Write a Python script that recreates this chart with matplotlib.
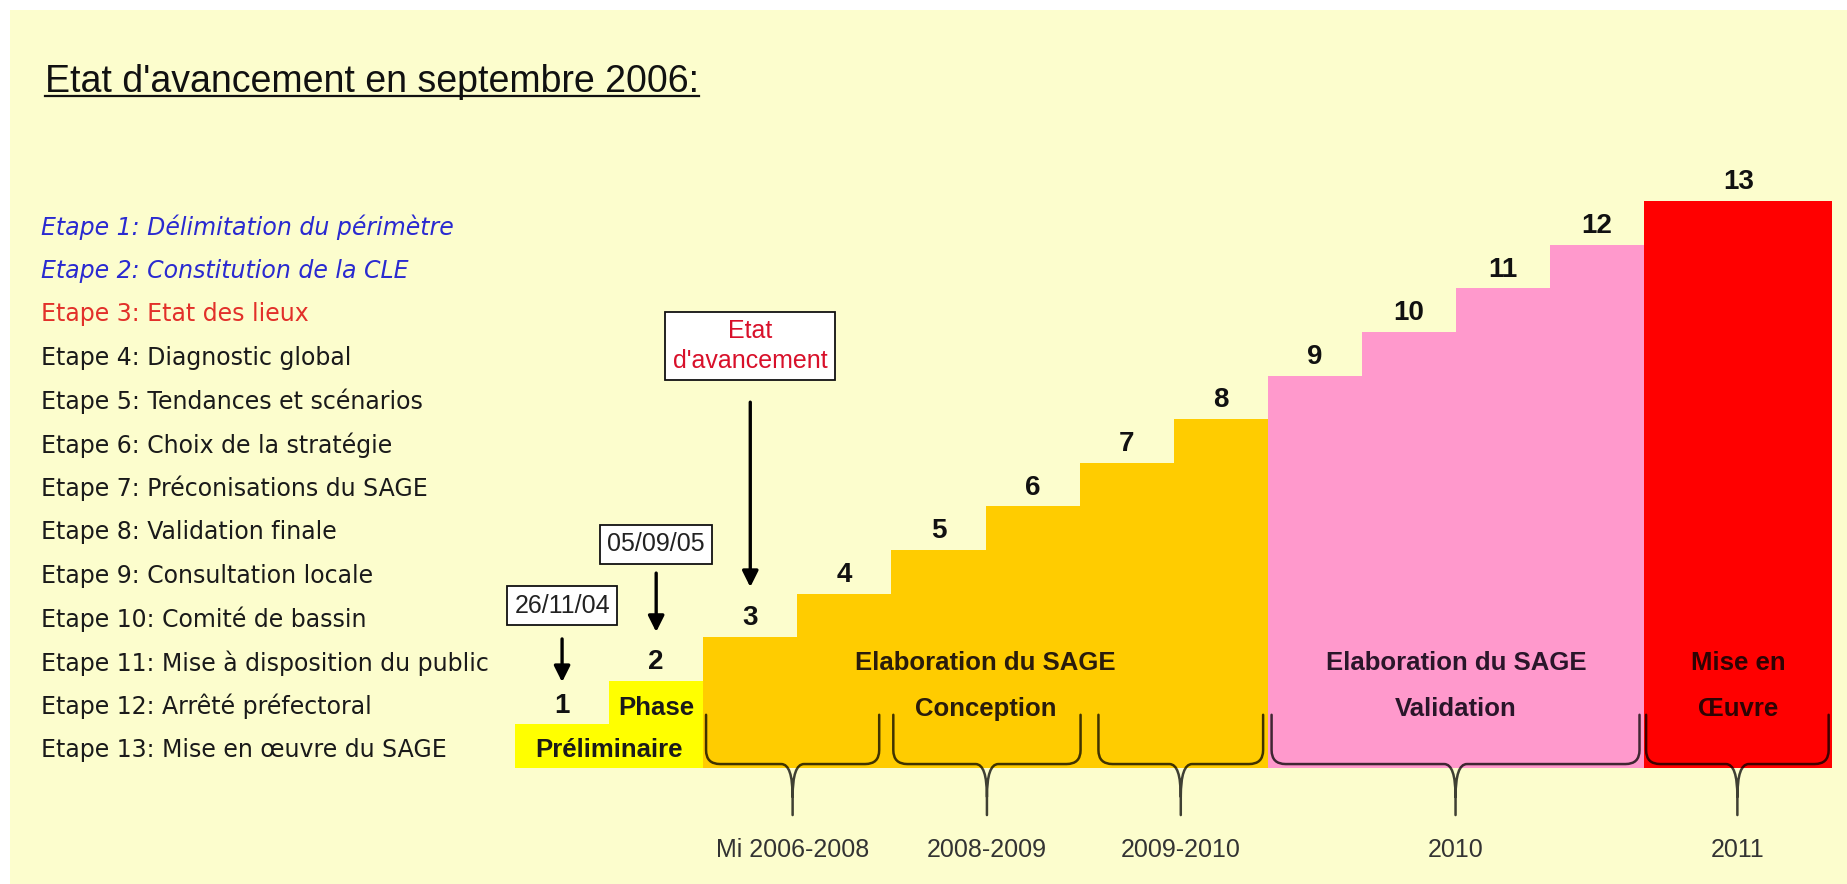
import matplotlib
matplotlib.use("Agg")
import matplotlib.pyplot as plt
from matplotlib.path import Path
from matplotlib.patches import PathPatch

# Etapes du SAGE (liste de gauche)
etapes = ["Délimitation du périmètre", "Constitution de la CLE", "Etat des lieux",
          "Diagnostic global", "Tendances et scénarios", "Choix de la stratégie",
          "Préconisations du SAGE", "Validation finale", "Consultation locale",
          "Comité de bassin", "Mise à disposition du public", "Arrêté préfectoral",
          "Mise en œuvre du SAGE"]
etape_statut = ["fait", "fait", "en cours"] + ["à venir"] * 10

# escalier: numero de l'etape, largeur de la marche, phase
step_num = list(range(1, 14))
step_width = [1] * 12 + [2]
step_phase = [0, 0, 1, 1, 1, 1, 1, 1, 2, 2, 2, 2, 3]

phase_lines = [("Phase", "Préliminaire"),
               ("Elaboration du SAGE", "Conception"),
               ("Elaboration du SAGE", "Validation"),
               ("Mise en", "Œuvre")]
phase_colors = ["#FFFF00", "#FFCC00", "#FF99CC", "#FF0000"]
phase_text_colors = ["#1a1a1a", "#2a1c0c", "#2a162a", "#2e0303"]

# periodes (accolades sous l'escalier)
periods = ["Mi 2006-2008", "2008-2009", "2009-2010", "2010", "2011"]
period_start = [2.03, 4.02, 6.20, 8.04, 12.02]
period_end = [3.87, 6.01, 7.95, 11.95, 13.96]

# reperes de dates
dates = ["26/11/04", "05/09/05", "Etat\nd'avancement"]
date_step = [1, 2, 3]

status_style = {"fait": ("#2a2ad0", "italic"),
                "en cours": ("#e2302a", "normal"),
                "à venir": ("#1a1a1a", "normal")}

fig = plt.figure(figsize=(18.47, 8.84), dpi=100, facecolor="white")
ax = fig.add_axes([10 / 1847, 0, 1837 / 1847, 874 / 884])
ax.set_facecolor("#FCFDCD")
ax.set_xlim(-5.367, 14.155)
ax.set_ylim(-2.661, 17.385)
for s in ax.spines.values():
    s.set_visible(False)
ax.set_xticks([])
ax.set_yticks([])

# marches
lefts = [sum(step_width[:i]) for i in range(len(step_num))]
colors = [phase_colors[p] for p in step_phase]
ax.bar(lefts, step_num, width=step_width, align="edge", color=colors, linewidth=0)

for l, w, n in zip(lefts, step_width, step_num):
    ax.text(l + w / 2, n + 0.43, str(n), ha="center", va="center",
            fontsize=20, fontweight="bold", family="Liberation Sans", color="#111111")

# textes des phases
for p, (l1, l2) in enumerate(phase_lines):
    idx = [i for i, q in enumerate(step_phase) if q == p]
    x0 = lefts[idx[0]]
    x1 = lefts[idx[-1]] + step_width[idx[-1]]
    xc = (x0 + x1) / 2
    if p == 0:
        pos = [(lefts[1] + step_width[1] / 2, 1.38), (xc, 0.41)]
    else:
        pos = [(xc, 2.41), (xc, 1.35)]
    for (x, y), t in zip(pos, (l1, l2)):
        ax.text(x, y, t, ha="center", va="center", fontsize=18.5, fontweight="bold",
                family="Liberation Sans", color=phase_text_colors[p])

# accolades
def brace(x0, x1, xm, yt=1.22, yf=0.09, yb=-1.08, rx=0.15, ry=0.32, tx=0.12, ty=0.75):
    M, L, C = Path.MOVETO, Path.LINETO, Path.CURVE3
    verts = [(x0, yt), (x0, yf + ry), (x0, yf), (x0 + rx, yf), (xm - tx, yf), (xm, yf), (xm, yf - ty), (xm, yb),
             (x1, yt), (x1, yf + ry), (x1, yf), (x1 - rx, yf), (xm + tx, yf), (xm, yf), (xm, yf - ty)]
    codes = [M, L, C, C, L, C, C, L,
             M, L, C, C, L, C, C]
    ax.add_patch(PathPatch(Path(verts, codes), facecolor="none", edgecolor="#000000",
                           alpha=0.75, lw=1.8, capstyle="round"))

for name, a, b in zip(periods, period_start, period_end):
    xm = (a + b) / 2
    brace(a, b, xm)
    ax.text(xm, -1.88, name, ha="center", va="center", fontsize=18,
            family="Liberation Sans", color="#333333")

# reperes de dates avec fleches
box_y = [3.72, 5.13, 9.68]
arrow_top = [2.96, 4.47, 8.39]
arrow_tip = [1.97, 3.12, 4.15]
for d, s, by, at, ab in zip(dates, date_step, box_y, arrow_top, arrow_tip):
    i = step_num.index(s)
    x = lefts[i] + step_width[i] / 2
    red = "\n" in d
    ax.text(x, by, d, ha="center", va="center", fontsize=18, family="Liberation Sans",
            color="#d8102a" if red else "#222222", linespacing=1.3,
            bbox=dict(boxstyle="square,pad=0.3", facecolor="white", edgecolor="#111111", lw=1.3))
    ax.annotate("", xy=(x, ab), xytext=(x, at),
                arrowprops=dict(arrowstyle="-|>", color="black", lw=2.4, mutation_scale=24,
                                shrinkA=0, shrinkB=0))

# liste des etapes
for k, (nom, st) in enumerate(zip(etapes, etape_statut), start=1):
    col, sty = status_style[st]
    ax.text(-5.04, 13 - k + 0.41, "Etape %d: %s" % (k, nom), ha="left", va="center",
            fontsize=17, style=sty, family="DejaVu Sans", color=col)

# titre souligne
title = ax.text(-4.99, 15.5, "Etat d'avancement en septembre 2006:", ha="left", va="baseline",
                fontsize=27, family="Liberation Sans", color="#111111")
fig.canvas.draw()
bb = title.get_window_extent().transformed(ax.transData.inverted())
ax.plot([bb.x0, bb.x1], [15.41, 15.41], color="#111111", lw=1.6)

fig.savefig("out.png", dpi=100, facecolor="white")
